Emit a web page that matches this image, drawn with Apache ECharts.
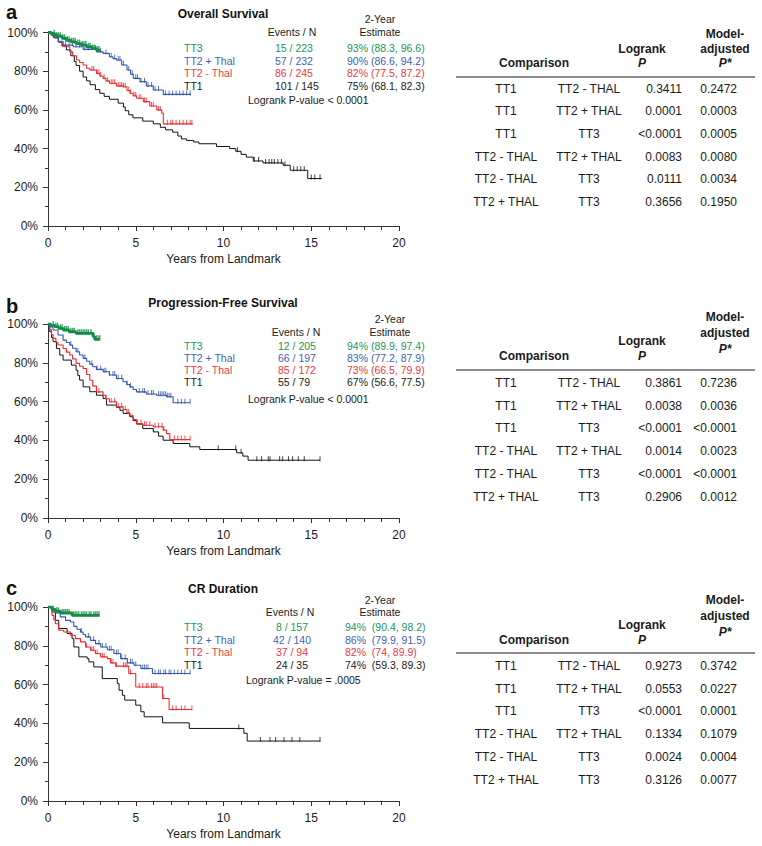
<!DOCTYPE html>
<html><head><meta charset="utf-8">
<script src="https://cdn.jsdelivr.net/npm/echarts@6/dist/echarts.min.js"></script>
<style>html,body{margin:0;padding:0;background:#fff}#c{width:762px;height:846px}</style>
</head><body><div id="c"></div>
<script>
// ---------- DATA ----------
const armNames = ['TT3', 'TT2 + Thal', 'TT2 - Thal', 'TT1'];
const xTicks = [0, 5, 10, 15, 20];
const yTicks = [0, 20, 40, 60, 80, 100];

// Panel a: Overall Survival  ([years, survival %] step points)
const a_TT3 = [[0,100],[0.2,99.3],[0.48,98.1],[0.8,97],[1.05,96],[1.3,95.2],[1.6,94.3],[1.9,93.5],[2.2,92.6],[2.5,91.7],[2.76,90.9],[2.95,90]];
const a_TT2p = [[0,100],[0.2,98.5],[0.4,97],[0.6,95.5],[0.86,93.5],[1.43,92.6],[2.0,91.3],[2.76,90],[3.14,89.2],[3.5,87.5],[3.7,86.5],[3.9,85.8],[4.2,83.2],[4.5,80.6],[4.7,78.5],[4.86,76.3],[5.24,74.6],[5.6,72.4],[6.0,70.3],[6.57,68],[8.15,68]];
const a_TT2m = [[0,100],[0.15,99],[0.29,97.8],[0.57,95.2],[0.8,93.5],[0.95,92.6],[1.24,90],[1.4,88],[1.62,85.8],[1.8,84.5],[2.0,83.2],[2.2,81.5],[2.38,80.6],[2.76,78.9],[2.95,77.5],[3.14,76.3],[3.3,75],[3.5,73.8],[3.9,72.4],[4.29,72],[4.5,70],[4.67,68.6],[4.85,67.3],[5.05,66],[5.43,64.3],[5.8,62],[6.2,60],[6.48,58.3],[6.57,52.8],[8.25,52.8]];
const a_TT1 = [[0,100],[0.3,97.5],[0.6,95],[0.8,93],[1.05,91],[1.3,88],[1.5,85],[1.6,83],[1.8,80],[2.0,77],[2.2,75],[2.4,73],[2.7,70.5],[2.95,68.6],[3.2,67],[3.5,65.5],[4.0,63.5],[4.3,61.5],[4.4,59.6],[4.6,57.5],[4.84,55.9],[5.4,54.2],[6.0,52.8],[6.4,51],[6.7,49.7],[7.1,48.5],[7.4,46.5],[7.6,45],[7.9,44.2],[8.3,43.4],[8.6,42.5],[9.6,41.1],[10.35,40],[10.7,38.6],[11.0,37],[11.3,35.6],[11.7,33.6],[12.25,32.6],[13.4,31.4],[13.8,28.8],[14.8,24.5],[15.6,24.5]];
const a_cens_TT3 = [0.35,0.5,0.6,0.7,0.85,0.95,1.1,1.2,1.35,1.45,1.55,1.7,1.8,1.95,2.05,2.15,2.3,2.4,2.55,2.65,2.8,2.9];
const a_cens_TT2p = [1.0,1.2,1.4,1.6,1.8,2.1,2.3,2.5,2.7,3.0,3.3,3.6,3.8,4.0,4.1,4.3,4.6,4.8,5.0,5.1,5.3,5.5,5.7,5.9,6.1,6.3,6.7,6.9,7.1,7.3,7.5,7.7,7.9,8.1];
const a_cens_TT2m = [2.5,2.6,2.8,2.9,3.0,3.2,3.4,3.6,3.7,3.8,4.0,4.1,4.2,4.3,4.4,4.6,4.7,4.9,5.0,5.2,5.3,5.5,5.6,5.9,6.0,6.3,6.4,6.8,7.0,7.1,7.3,7.5,7.7,7.9,8.1,8.2];
const a_cens_TT1 = [10.8,11.75,12.0,12.4,12.6,12.75,12.9,13.1,13.3,13.5,14.0,14.2,14.4,14.6,15.0,15.2,15.5];

// Panel b: Progression-Free Survival
const b_TT3 = [[0,100],[0.15,99.3],[0.38,98.6],[0.6,97.8],[0.86,96.9],[1.2,96],[1.6,95.2],[2.57,93.5],[2.66,92.1],[2.95,92.1]];
const b_TT2p = [[0,100],[0.15,98.5],[0.29,96.9],[0.57,94.3],[0.86,91.7],[1.05,90.5],[1.24,89.2],[1.4,87.5],[1.6,85.7],[1.8,84],[2.0,82.3],[2.2,80.8],[2.38,79.3],[2.55,78],[2.76,76.6],[3.14,75.4],[3.5,73.7],[3.9,71.9],[4.28,70.2],[4.5,68.8],[4.66,67.6],[4.85,66.2],[5.04,65],[5.6,63.9],[6.18,63.3],[6.75,62.5],[7.13,59.4],[8.1,59.4]];
const b_TT2m = [[0,100],[0.1,97],[0.2,94.5],[0.29,92.6],[0.45,90.5],[0.57,89.2],[0.86,87.4],[1.05,85.5],[1.24,84],[1.4,82],[1.6,79.7],[1.8,78.2],[2.0,77.1],[2.2,74],[2.38,71],[2.55,68],[2.76,65],[3.14,63.3],[3.3,61.5],[3.5,59.9],[3.9,57.3],[4.28,55.9],[4.5,54.2],[4.66,53],[4.85,50.8],[5.04,48.7],[5.4,47.8],[6.0,47],[6.56,45.3],[6.75,43.5],[6.94,40.4],[8.1,40.4]];
const b_TT1 = [[0,100],[0.1,96],[0.2,93],[0.29,90.9],[0.48,87.4],[0.67,84],[0.86,81.4],[1.33,78.8],[1.6,76.2],[1.7,73.5],[1.8,71.1],[2.0,67.6],[2.38,65.1],[2.76,63.3],[3.14,61.6],[3.33,58.2],[3.9,57],[4.1,55.5],[4.28,53.9],[4.66,52.2],[4.85,50.2],[5.04,48.4],[5.4,46.1],[6.0,44.4],[6.3,42.2],[6.56,40.1],[7.13,38.4],[8.08,36.7],[8.65,35.3],[10.75,33.6],[11.1,31.9],[11.4,29.8],[15.5,29.8]];
const b_cens_TT3 = [0.3,0.45,0.55,0.7,0.8,0.95,1.05,1.15,1.3,1.4,1.5,1.7,1.8,1.9,2.0,2.1,2.2,2.3,2.45,2.6,2.75,2.85,2.95];
const b_cens_TT2p = [1.3,1.7,2.1,2.5,2.8,3.0,3.2,3.3,3.5,3.7,3.8,4.0,4.2,4.5,4.7,5.2,5.4,5.5,5.7,5.9,6.0,6.3,6.4,6.5,6.6,6.7,6.8,6.9,7.0,7.4,7.6,7.8,8.1];
const b_cens_TT2m = [2.9,3.3,3.6,3.8,4.0,4.2,4.4,4.6,5.1,5.3,5.5,5.6,5.8,6.1,6.3,6.5,6.6,7.2,7.4,7.6,7.8,8.1];
const b_cens_TT1 = [9.7,10.7,11.0,11.9,12.17,12.55,12.65,13.2,13.37,13.7,13.94,14.26,14.6,15.5];

// Panel c: CR Duration
const c_TT3 = [[0,100],[0.23,98.6],[0.42,97.8],[0.7,96.9],[1.37,95.7],[2.94,95.7]];
const c_TT2p = [[0,100],[0.23,99.1],[0.42,96.9],[0.7,94.9],[1.0,93.1],[1.28,92.3],[1.47,90],[1.65,88.5],[1.85,87.1],[2.0,85.8],[2.14,84.6],[2.42,82.8],[2.71,81.1],[3.0,79.4],[3.38,78],[3.76,76],[4.14,73.4],[4.52,71.2],[4.9,70],[5.29,68.3],[5.95,65.7],[8.1,65.7]];
const c_TT2m = [[0,100],[0.23,95.7],[0.33,93.5],[0.42,91.4],[0.61,88],[0.9,87.1],[1.28,85.4],[1.56,83.7],[1.85,82],[2.14,79.4],[2.42,77.7],[2.7,76],[3.0,74.3],[3.38,73.4],[3.57,71.2],[3.85,69.5],[4.6,65.7],[5.0,58.8],[6.53,52.8],[6.9,47.2],[8.2,47.2]];
const c_TT1 = [[0,100],[0.23,97.4],[0.42,93.1],[0.61,88.9],[1.09,86.3],[1.37,83.7],[1.47,79.4],[1.76,74.3],[2.23,73.4],[2.33,71.7],[2.61,69.1],[3.09,63.1],[3.95,60.5],[4.05,57.1],[4.24,54.5],[4.37,52],[5.0,49.4],[5.29,46],[5.48,43.4],[6.53,40.3],[8.05,37.4],[11.16,34.9],[11.35,30.9],[15.5,30.9]];
const c_cens_TT3 = [0.3,0.5,0.6,0.8,0.9,1.0,1.1,1.2,1.45,1.55,1.65,1.75,1.9,2.0,2.1,2.2,2.35,2.45,2.6,2.7,2.8,2.9];
const c_cens_TT2p = [1.9,2.3,2.6,2.9,3.1,3.3,3.5,3.6,3.9,4.0,4.2,4.4,4.7,4.8,5.0,5.4,5.5,5.6,5.7,6.1,6.3,6.4,6.6,6.7,6.9,7.0,7.2,7.4,7.6,7.8,8.1];
const c_cens_TT2m = [2.2,2.5,2.6,2.8,3.1,3.2,3.6,3.7,3.9,4.3,4.4,4.5,4.7,5.2,5.4,5.6,5.7,5.9,6.0,6.1,6.2,6.6,7.1,7.3,7.6,7.8,8.2];
const c_cens_TT1 = [10.87,12.1,12.65,12.97,13.45,13.9,14.35,15.5];

// Legend table values
const a_events = ['15 / 223', '57 / 232', '86 / 245', '101 / 145'];
const a_est = ['93% (88.3, 96.6)', '90% (86.6, 94.2)', '82% (77.5, 87.2)', '75% (68.1, 82.3)'];
const b_events = ['12 / 205', '66 / 197', '85 / 172', '55 / 79'];
const b_est = ['94% (89.9, 97.4)', '83% (77.2, 87.9)', '73% (66.5, 79.9)', '67% (56.6, 77.5)'];
const c_events = ['8 / 157', '42 / 140', '37 / 94', '24 / 35'];
const c_est = ['94%\u00a0\u00a0(90.4, 98.2)', '86%\u00a0\u00a0(79.9, 91.5)', '82%\u00a0\u00a0(74, 89.9)', '74%\u00a0\u00a0(59.3, 89.3)'];
const a_logrankText = 'Logrank P-value < 0.0001';
const b_logrankText = 'Logrank P-value < 0.0001';
const c_logrankText = 'Logrank P-value = .0005';

// Comparison tables
const cmpFirst = ['TT1', 'TT1', 'TT1', 'TT2 - THAL', 'TT2 - THAL', 'TT2 + THAL'];
const cmpSecond = ['TT2 - THAL', 'TT2 + THAL', 'TT3', 'TT2 + THAL', 'TT3', 'TT3'];
const a_logrankP = ['0.3411', '0.0001', '<0.0001', '0.0083', '0.0111', '0.3656'];
const a_adjP = ['0.2472', '0.0003', '0.0005', '0.0080', '0.0034', '0.1950'];
const b_logrankP = ['0.3861', '0.0038', '<0.0001', '0.0014', '<0.0001', '0.2906'];
const b_adjP = ['0.7236', '0.0036', '<0.0001', '0.0023', '<0.0001', '0.0012'];
const c_logrankP = ['0.9273', '0.0553', '<0.0001', '0.1334', '0.0024', '0.3126'];
const c_adjP = ['0.3742', '0.0227', '0.0001', '0.1079', '0.0004', '0.0077'];

// ---------- LAYOUT / STYLE ----------
const FONT = '"Liberation Sans", Arial, Helvetica, sans-serif';
const lineColors = ['#138c45', '#3355ad', '#ec2a30', '#111111'];
const textColors = ['#23965a', '#4262b2', '#ea3a40', '#1a1a1a'];
const lineWidths = [2.8, 1.1, 1.1, 1];

const panels = [
  { letter: 'a', title: 'Overall Survival', top: 32.5, h: 193.5, steps: [a_TT3, a_TT2p, a_TT2m, a_TT1], cens: [a_cens_TT3, a_cens_TT2p, a_cens_TT2m, a_cens_TT1],
    events: a_events, est: a_est, lr: a_logrankText, lrP: a_logrankP, adjP: a_adjP,
    L: { titleY: 14, letterY: 12, yr2: 19, hdr: 32, rows: [48, 61, 73, 86], lrY: 100, lrX: 248, evX: 275, evAlign: 'left', evHdrX: 292, estX: 347, estHdrX: 380 },
    T: { model: 34, adj: 49, pStar: 63, logr: 49, p: 63, cmp: 63, line: 77, rows: [89, 111, 134, 157, 179, 202] } },
  { letter: 'b', title: 'Progression-Free Survival', top: 324, h: 194, steps: [b_TT3, b_TT2p, b_TT2m, b_TT1], cens: [b_cens_TT3, b_cens_TT2p, b_cens_TT2m, b_cens_TT1],
    events: b_events, est: b_est, lr: b_logrankText, lrP: b_logrankP, adjP: b_adjP,
    L: { titleY: 303, letterY: 306, yr2: 319, hdr: 332, rows: [346, 358, 370, 382], lrY: 399, lrX: 248, evX: 278, evAlign: 'left', evHdrX: 296, estX: 347, estHdrX: 390 },
    T: { model: 317, adj: 333, pStar: 349, logr: 341, p: 356, cmp: 356, line: 370, rows: [383, 406, 428, 451, 474, 497] } },
  { letter: 'c', title: 'CR Duration', top: 607, h: 194, steps: [c_TT3, c_TT2p, c_TT2m, c_TT1], cens: [c_cens_TT3, c_cens_TT2p, c_cens_TT2m, c_cens_TT1],
    events: c_events, est: c_est, lr: c_logrankText, lrP: c_logrankP, adjP: c_adjP,
    L: { titleY: 589, letterY: 588, yr2: 600, hdr: 612, rows: [627, 640, 652, 665], lrY: 680, lrX: 246, evX: 292, evAlign: 'center', evHdrX: 290, estX: 345, estHdrX: 380 },
    T: { model: 600, adj: 616, pStar: 632, logr: 625, p: 640, cmp: 640, line: 653, rows: [666, 689, 711, 734, 757, 780] } }
];

function survAt(steps, t) {
  let s = steps[0][1];
  for (const p of steps) { if (p[0] <= t) s = p[1]; else break; }
  return s;
}
function txt(x, y, text, font, fill, align) {
  return { type: 'text', x: x, y: y, silent: true,
    style: { text: text, font: font, fill: fill || '#1a1a1a', align: align || 'left', verticalAlign: 'middle',
             textAlign: align || 'left', textVerticalAlign: 'middle' } };
}

const grids = [], xAxes = [], yAxes = [], series = [], graphics = [];
panels.forEach((P, i) => {
  grids.push({ left: 48, top: P.top, width: 351, height: P.h });
  xAxes.push({ gridIndex: i, type: 'value', min: xTicks[0], max: xTicks[xTicks.length - 1], interval: 5,
    name: 'Years from Landmark', nameLocation: 'middle', nameGap: 27,
    nameTextStyle: { fontFamily: FONT, fontSize: 12, color: '#1a1a1a' },
    axisLine: { lineStyle: { color: '#333', width: 1 } },
    axisTick: { length: 5, lineStyle: { color: '#333' } },
    minorTick: { show: true, splitNumber: 5, length: 4, lineStyle: { color: '#333' } },
    axisLabel: { fontFamily: FONT, fontSize: 12, color: '#1a1a1a', margin: 11 },
    splitLine: { show: false } });
  yAxes.push({ gridIndex: i, type: 'value', min: yTicks[0], max: yTicks[yTicks.length - 1], interval: 20,
    axisLine: { show: true, lineStyle: { color: '#333', width: 1 } },
    axisTick: { show: true, length: 5, lineStyle: { color: '#333' } },
    minorTick: { show: true, splitNumber: 2, length: 3, lineStyle: { color: '#333' } },
    axisLabel: { fontFamily: FONT, fontSize: 12, color: '#1a1a1a', margin: 10, formatter: '{value}%' },
    splitLine: { show: false } });
  // draw arms back-to-front: TT1, TT2-, TT2+, TT3
  [3, 2, 1, 0].forEach(k => {
    series.push({ type: 'line', xAxisIndex: i, yAxisIndex: i, step: 'end', showSymbol: false, symbol: 'none',
      data: P.steps[k], lineStyle: { color: lineColors[k], width: lineWidths[k] }, silent: true, animation: false, z: 2 + (3 - k) });
    series.push({ type: 'scatter', xAxisIndex: i, yAxisIndex: i,
      data: P.cens[k].map(t => [t, survAt(P.steps[k], t)]),
      symbol: 'rect', symbolSize: k === 0 ? [1.4, 5] : [1, 5], symbolOffset: [0, -1.5],
      itemStyle: { color: lineColors[k] }, silent: true, animation: false, z: 2 + (3 - k) });
  });
  const L = P.L;
  graphics.push(txt(6, L.letterY, P.letter, 'bold 20px ' + FONT, '#111', 'left'));
  graphics.push(txt(223, L.titleY, P.title, 'bold 12px ' + FONT, '#111', 'center'));
  graphics.push(txt(L.estHdrX, L.yr2, '2-Year', '10.5px ' + FONT, '#1a1a1a', 'center'));
  graphics.push(txt(L.estHdrX, L.hdr, 'Estimate', '10.5px ' + FONT, '#1a1a1a', 'center'));
  graphics.push(txt(L.evHdrX, L.hdr, 'Events / N', '10.5px ' + FONT, '#1a1a1a', 'center'));
  armNames.forEach((nm, k) => {
    graphics.push(txt(184, L.rows[k], nm, '10.5px ' + FONT, textColors[k], 'left'));
    graphics.push(txt(L.evX, L.rows[k], P.events[k], '10.5px ' + FONT, textColors[k], L.evAlign));
    graphics.push(txt(L.estX, L.rows[k], P.est[k], '10.5px ' + FONT, textColors[k], 'left'));
  });
  graphics.push(txt(L.lrX, L.lrY, P.lr, '10.5px ' + FONT, '#1a1a1a', 'left'));
  // comparison table
  const T = P.T;
  graphics.push(txt(534, T.cmp, 'Comparison', 'bold 12px ' + FONT, '#1a1a1a', 'center'));
  graphics.push(txt(642, T.logr, 'Logrank', 'bold 12px ' + FONT, '#1a1a1a', 'center'));
  graphics.push(txt(642, T.p, 'P', 'italic bold 12px ' + FONT, '#1a1a1a', 'center'));
  graphics.push(txt(725, T.model, 'Model-', 'bold 12px ' + FONT, '#1a1a1a', 'center'));
  graphics.push(txt(725, T.adj, 'adjusted', 'bold 12px ' + FONT, '#1a1a1a', 'center'));
  graphics.push(txt(725, T.pStar, 'P*', 'italic bold 12px ' + FONT, '#1a1a1a', 'center'));
  graphics.push({ type: 'line', silent: true, shape: { x1: 456, y1: T.line, x2: 755, y2: T.line }, style: { stroke: '#666', lineWidth: 1.5 } });
  cmpFirst.forEach((c1, r) => {
    graphics.push(txt(506, T.rows[r], c1, '12px ' + FONT, '#1a1a1a', 'center'));
    graphics.push(txt(589, T.rows[r], cmpSecond[r], '12px ' + FONT, '#1a1a1a', 'center'));
    graphics.push(txt(682, T.rows[r], P.lrP[r], '12px ' + FONT, '#1a1a1a', 'right'));
    graphics.push(txt(737, T.rows[r], P.adjP[r], '12px ' + FONT, '#1a1a1a', 'right'));
  });
});

const chart = echarts.init(document.getElementById('c'), null, { renderer: 'svg' });
chart.setOption({ animation: false, backgroundColor: '#fff', grid: grids, xAxis: xAxes, yAxis: yAxes, series: series, graphic: graphics });
</script></body></html>
